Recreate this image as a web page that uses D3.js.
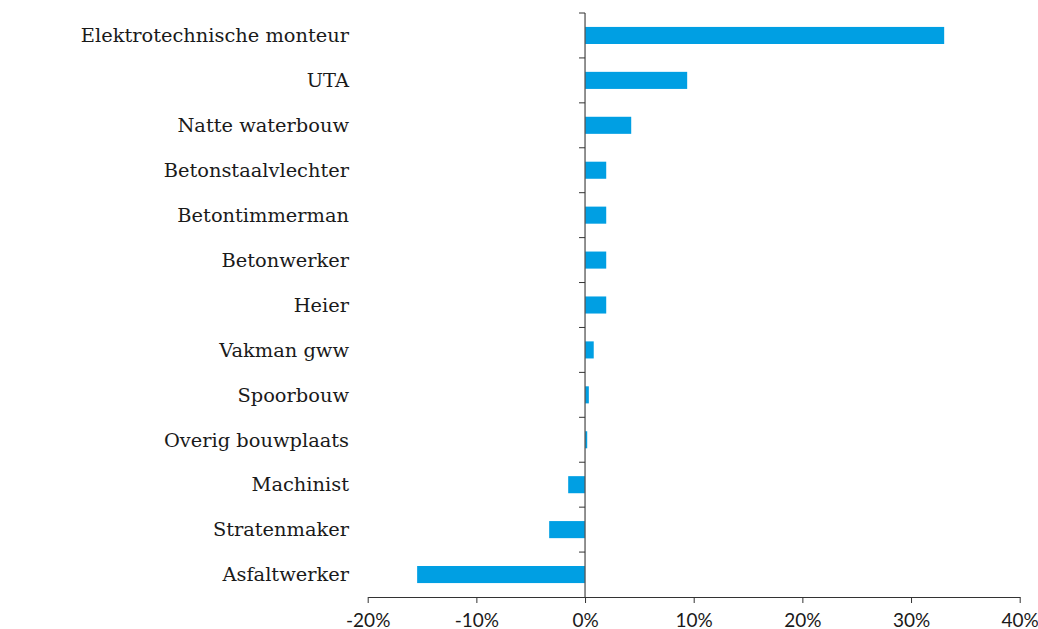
<!DOCTYPE html>
<html>
<head>
<meta charset="utf-8">
<script src="https://cdn.jsdelivr.net/npm/d3@7"></script>
<style>
  body { margin: 0; background: #fff; }
  .cat { font-family: "DejaVu Serif", serif; font-size: 19.4px; fill: #1a1a1a; }
  .xaxis text { font-family: Lato, sans-serif; font-size: 19px; fill: #1a1a1a; }
</style>
</head>
<body>
<svg id="chart" width="1038" height="629"></svg>
<script>
const categories = ["Elektrotechnische monteur", "UTA", "Natte waterbouw", "Betonstaalvlechter",
  "Betontimmerman", "Betonwerker", "Heier", "Vakman gww", "Spoorbouw", "Overig bouwplaats",
  "Machinist", "Stratenmaker", "Asfaltwerker"];
const values = [33.05, 9.4, 4.25, 1.95, 1.95, 1.95, 1.95, 0.8, 0.35, 0.2, -1.55, -3.3, -15.45];
const xTicks = [-20, -10, 0, 10, 20, 30, 40];

const svg = d3.select("#chart");
const plotTop = 13, plotBottom = 597;

const x = d3.scaleLinear().domain([-20, 40]).range([367.7, 1019.7]);
const y = d3.scaleBand().domain(categories).range([plotTop, plotBottom]).paddingInner(0.62).paddingOuter(0.31);
const band = d3.scaleBand().domain(categories).range([plotTop, plotBottom]);

// bars
svg.append("g").selectAll("rect").data(categories).join("rect")
  .attr("x", (d, i) => x(Math.min(0, values[i])))
  .attr("y", d => y(d))
  .attr("width", (d, i) => Math.abs(x(values[i]) - x(0)))
  .attr("height", y.bandwidth())
  .attr("fill", "#009fe3");

// x axis
const xAxis = svg.append("g").attr("class", "xaxis")
  .attr("transform", `translate(0,${plotBottom})`)
  .call(d3.axisBottom(x).tickValues(xTicks).tickFormat(d => d + "%").tickSize(6).tickSizeOuter(0));
xAxis.select(".domain").attr("stroke", "#333");
xAxis.selectAll(".tick line").attr("stroke", "#333");
xAxis.selectAll("text").attr("dy", "1.12em");

// y axis at zero with ticks between categories
const yg = svg.append("g").attr("transform", `translate(${x(0)},0)`);
yg.append("line").attr("y1", plotTop).attr("y2", plotBottom).attr("stroke", "#555").attr("stroke-width", 1.3);
yg.selectAll("line.tk").data(categories).join("line").attr("class", "tk")
  .attr("x1", -6).attr("x2", 0)
  .attr("y1", d => band(d)).attr("y2", d => band(d))
  .attr("stroke", "#333");

// category labels
svg.append("g").selectAll("text").data(categories).join("text")
  .attr("class", "cat")
  .attr("x", 349)
  .attr("y", d => band(d) + band.bandwidth() / 2)
  .attr("dy", "0.35em")
  .attr("text-anchor", "end")
  .text(d => d);
</script>
</body>
</html>
